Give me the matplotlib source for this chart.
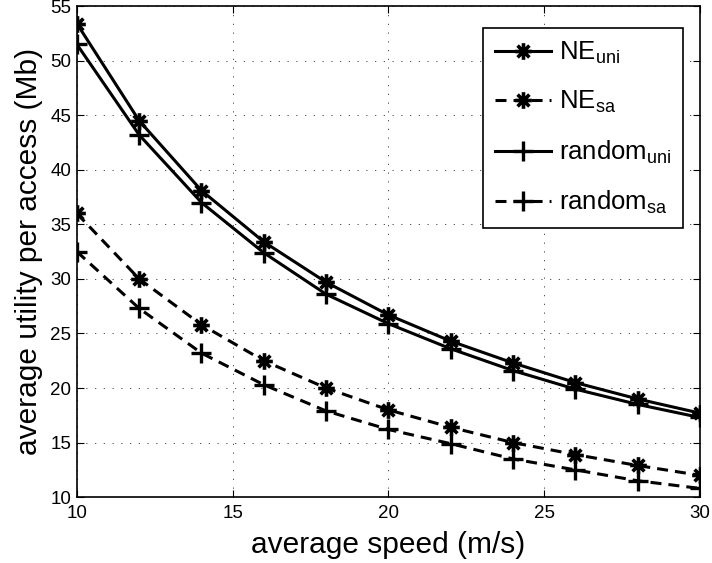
import matplotlib
matplotlib.use("Agg")
import matplotlib.pyplot as plt
from matplotlib.path import Path

plt.rcParams['font.family'] = ['Liberation Sans', 'DejaVu Sans']
plt.rcParams['mathtext.fontset'] = 'custom'
plt.rcParams['mathtext.rm'] = 'Liberation Sans'
plt.rcParams['mathtext.it'] = 'Liberation Sans'

speed = [10, 12, 14, 16, 18, 20, 22, 24, 26, 28, 30]
ne_uni = [53.4, 44.5, 38.1, 33.4, 29.7, 26.7, 24.3, 22.3, 20.5, 19.0, 17.7]
random_uni = [51.5, 43.2, 37.0, 32.4, 28.6, 25.9, 23.6, 21.6, 19.9, 18.5, 17.3]
ne_sa = [36.0, 30.0, 25.8, 22.5, 20.0, 18.0, 16.4, 15.0, 13.9, 12.9, 12.0]
random_sa = [32.5, 27.3, 23.2, 20.3, 17.9, 16.2, 14.9, 13.5, 12.5, 11.5, 10.8]
labels = [r'NE$_{\rm uni}$', r'NE$_{\rm sa}$', r'random$_{\rm uni}$', r'random$_{\rm sa}$']

# MATLAB-like 8-arm asterisk marker
d = 0.7071
star = Path([(-1, 0), (1, 0), (0, -1), (0, 1), (-d, -d), (d, d), (-d, d), (d, -d)],
            [Path.MOVETO, Path.LINETO] * 4)

fig = plt.figure(figsize=(7.12, 5.63), dpi=100)
ax = fig.add_axes([0.108, 0.117, 0.875, 0.872])

lw = 2.2
dash = (3.6, 2.3)
sk = dict(marker=star, ms=12, mew=2.6, mfc='none', mec='k')
pk = dict(marker='+', ms=14.5, mew=2.4, mec='k')
ax.plot(speed, ne_uni, color='k', lw=lw, label=labels[0], **sk)
ax.plot(speed, ne_sa, color='k', lw=lw, ls='--', dashes=dash, label=labels[1], **sk)
ax.plot(speed, random_uni, color='k', lw=lw, label=labels[2], **pk)
ax.plot(speed, random_sa, color='k', lw=lw, ls='--', dashes=dash, label=labels[3], **pk)

ax.set_xlim(10, 30)
ax.set_ylim(10, 55)
ax.set_xticks([10, 15, 20, 25, 30])
ax.set_yticks([10, 15, 20, 25, 30, 35, 40, 45, 50, 55])
ax.tick_params(direction='in', top=True, right=True, labelsize=13.5, length=5)
ax.tick_params(axis='x', pad=6)
ax.tick_params(axis='y', pad=4)
ax.grid(True, color='#333333', linestyle=(0, (1.5, 9)), linewidth=0.6)
for s in ax.spines.values():
    s.set_linewidth(1.2)

ax.set_xlabel('average speed (m/s)', fontsize=21.5, labelpad=6)
ax.set_ylabel('average utility per access (Mb)', fontsize=21.5, labelpad=5)

leg = ax.legend(loc='upper right', bbox_to_anchor=(0.973, 0.955), fontsize=18.5,
                fancybox=False, framealpha=1, edgecolor='k', handlelength=2.2,
                handletextpad=0.3, labelspacing=0.9, borderpad=0.45, borderaxespad=0)
leg.get_frame().set_linewidth(1.2)

fig.savefig('out.png', dpi=100)
